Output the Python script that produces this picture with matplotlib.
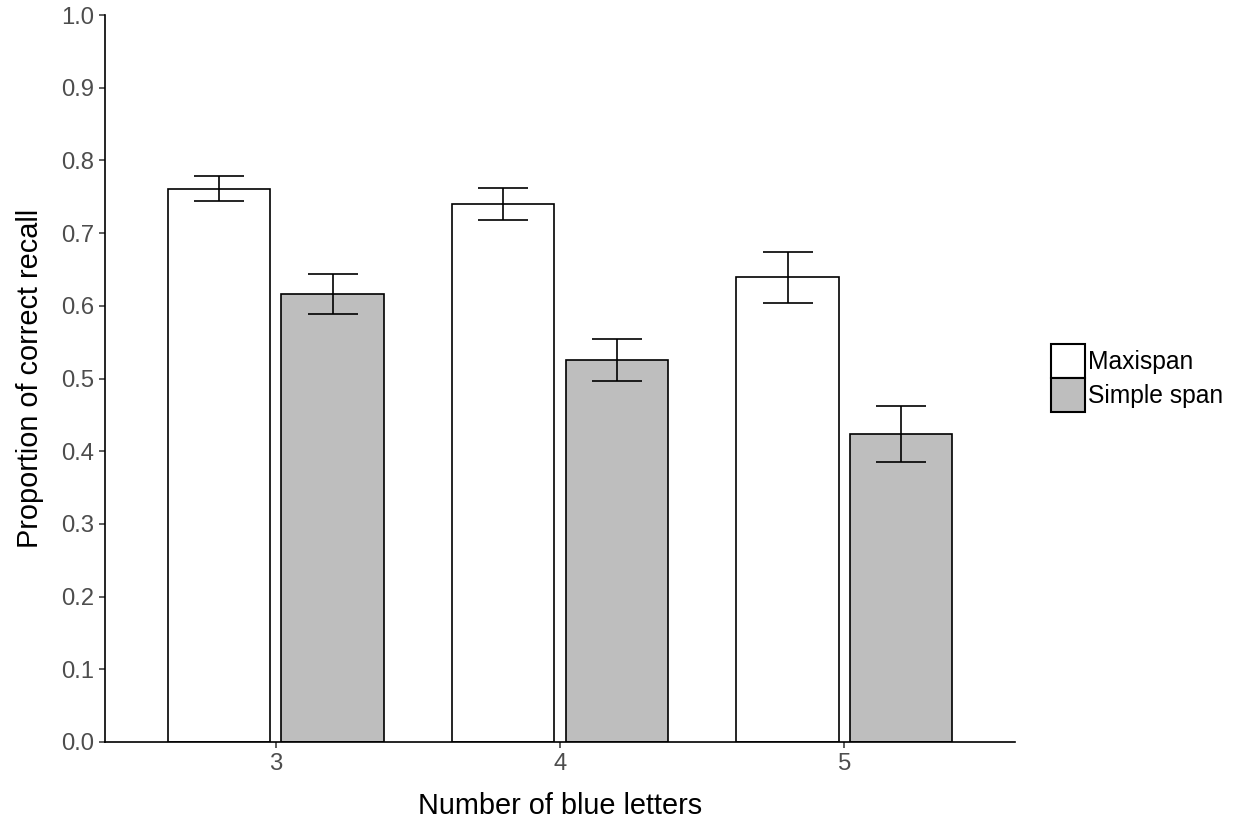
import matplotlib.pyplot as plt
import numpy as np
from matplotlib.patches import Patch

plt.rcParams['font.family'] = ['Liberation Sans', 'DejaVu Sans']

letters = ['3', '4', '5']
groups = ['Maxispan', 'Simple span']
maxispan = [0.761, 0.740, 0.639]
maxispan_err = [0.0175, 0.022, 0.035]
simple = [0.616, 0.525, 0.423]
simple_err = [0.0275, 0.029, 0.0385]
fills = ['white', '#bebebe']

fig = plt.figure(figsize=(12.38, 8.27), dpi=100)
ax = fig.add_axes([105/1238, 85/827, 910/1238, 727/827])

x = np.arange(len(letters))
width = 0.36
offs = [-0.2, 0.2]
for off, vals, errs, fc in zip(offs, [maxispan, simple], [maxispan_err, simple_err], fills):
    ax.bar(x + off, vals, width=width, color=fc, edgecolor='black', linewidth=1.2, zorder=2)
    ax.errorbar(x + off, vals, yerr=errs, fmt='none', ecolor='black',
                elinewidth=1.2, capsize=18, capthick=1.2, zorder=3)

ax.set_xlim(-0.6, 2.6)
ax.set_ylim(0, 1.0)
ax.set_xticks(x)
ax.set_xticklabels(letters)
ax.set_yticks(np.arange(0, 1.01, 0.1))
ax.set_yticklabels(['%.1f' % v for v in np.arange(0, 1.01, 0.1)])
for s in ['top', 'right']:
    ax.spines[s].set_visible(False)
for s in ['left', 'bottom']:
    ax.spines[s].set_linewidth(1.2)
    ax.spines[s].set_color('black')
ax.tick_params(length=4, width=1.1, color='#333333', labelsize=17.2, labelcolor='#4d4d4d', pad=4)

ax.set_xlabel('Number of blue letters', fontsize=20.8, color='black', labelpad=12)
ax.set_ylabel('Proportion of correct recall', fontsize=20.8, color='black', labelpad=12)

handles = [Patch(facecolor=fc, edgecolor='black', linewidth=1.5) for fc in fills]
fig.legend(handles, groups, loc='upper left', bbox_to_anchor=(1051/1238, 1 - 344/827),
           frameon=False, fontsize=17.7, handlelength=1.38, handleheight=1.75,
           handletextpad=0.12, labelspacing=0.0, borderpad=0, borderaxespad=0)

fig.savefig('out.png', dpi=100)
